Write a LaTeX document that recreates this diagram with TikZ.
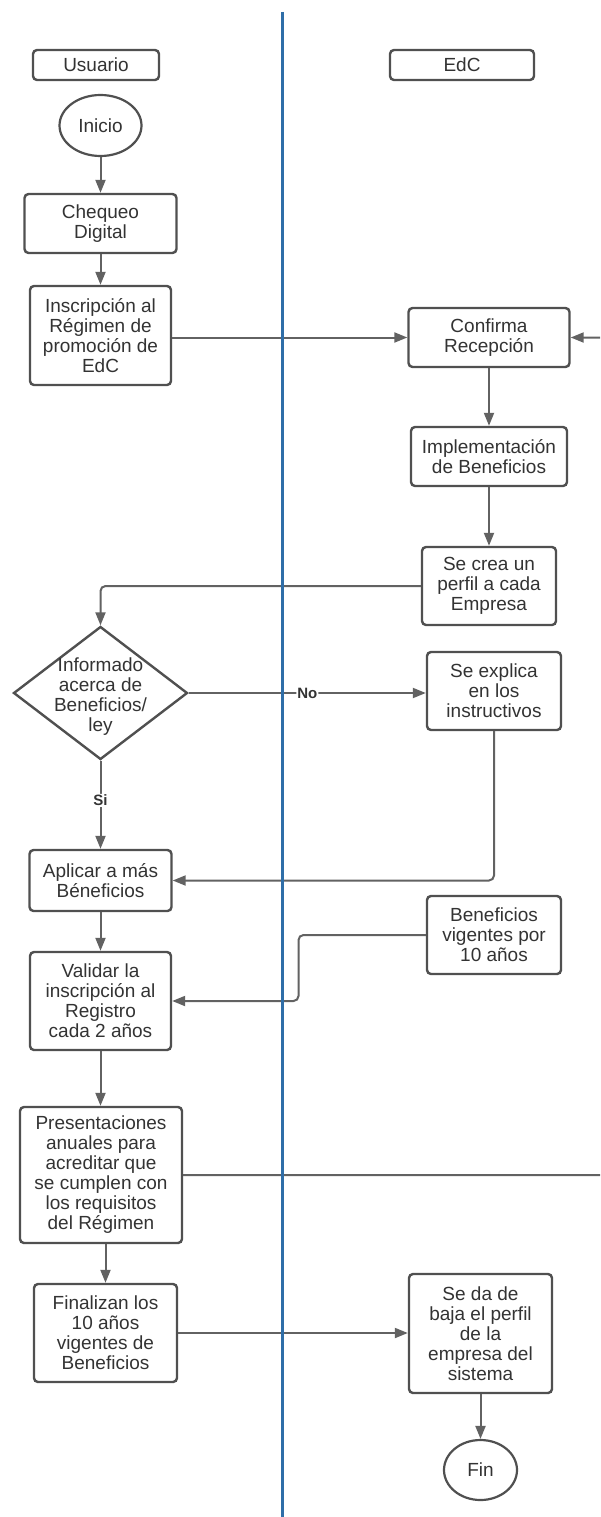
\documentclass[tikz,border=0pt]{standalone}
\usepackage{fontspec}
\setmainfont{Liberation Sans}
\usetikzlibrary{arrows.meta,shapes.geometric}
\definecolor{boxline}{HTML}{505050}
\definecolor{conline}{HTML}{626262}
\definecolor{txt}{HTML}{333333}
\definecolor{lane}{HTML}{2F6EA8}
\begin{document}
\begin{tikzpicture}[x=1pt,y=-1pt,
  every node/.style={font=\fontsize{19}{20}\selectfont, text=txt},
  proc/.style={draw=boxline, line width=2.4pt, rounded corners=4pt, align=center, inner sep=0pt},
  term/.style={draw=boxline, line width=2.2pt, ellipse, inner sep=0pt},
  flow/.style={draw=conline, line width=2pt, -{Triangle[length=13pt,width=10pt]}, rounded corners=5pt},
  lbl/.style={font=\fontsize{15}{15}\selectfont\bfseries, fill=white, inner sep=1pt, text=txt}]
\clip (0,0) rectangle (600,1517);
\fill[white] (0,0) rectangle (600,1517);

% lane headers
\node[proc, minimum width=126pt, minimum height=30pt] (usuario) at (96,65) {Usuario};
\node[proc, minimum width=144pt, minimum height=30pt] (edc) at (462,65) {EdC};

% left lane
\node[term, minimum width=82pt, minimum height=61pt] (inicio) at (100.5,125.5) {Inicio};
\node[proc, minimum width=152pt, minimum height=59pt] (chequeo) at (100.5,223.5) {Chequeo\\Digital};
\node[proc, minimum width=141pt, minimum height=99pt] (inscr) at (100.5,335.5) {Inscripción al\\Régimen de\\promoción de\\EdC};
\node[diamond, draw=boxline, line width=2.4pt, minimum width=174pt, minimum height=133pt, inner sep=0pt] (dec) at (100.5,693) {};
\node[align=center, inner sep=0pt] (dectext) at (100.5,697) {Informado\\acerca de\\Beneficios/\\ley};
\node[proc, minimum width=142pt, minimum height=61pt] (aplicar) at (100.5,880.5) {Aplicar a más\\Béneficios};
\node[proc, minimum width=141pt, minimum height=98pt] (validar) at (100.5,1001) {Validar la\\inscripción al\\Registro\\cada 2 años};
\node[proc, minimum width=162pt, minimum height=136pt] (pres) at (101,1175) {Presentaciones\\anuales para\\acreditar que\\se cumplen con\\los requisitos\\del Régimen};
\node[proc, minimum width=143pt, minimum height=98pt] (final) at (105.5,1333) {Finalizan los\\10 años\\vigentes de\\Beneficios};

% right lane
\node[proc, minimum width=161pt, minimum height=59pt] (confirma) at (489,337.5) {Confirma\\Recepción};
\node[proc, minimum width=156pt, minimum height=59pt] (impl) at (489,456.5) {Implementación\\de Beneficios};
\node[proc, minimum width=134pt, minimum height=78pt] (secrea) at (489,586) {Se crea un\\perfil a cada\\Empresa};
\node[proc, minimum width=134pt, minimum height=78pt] (explica) at (494,691) {Se explica\\en los\\instructivos};
\node[proc, minimum width=134pt, minimum height=78pt] (benef) at (494,935) {Beneficios\\vigentes por\\10 años};
\node[proc, minimum width=143pt, minimum height=119pt] (baja) at (480.5,1333.5) {Se da de\\baja el perfil\\de la\\empresa del\\sistema};
\node[term, minimum width=73pt, minimum height=60pt] (fin) at (480.5,1470) {Fin};

% helper coordinates
\coordinate (jog) at (298.5,968);
\coordinate (offright) at (615,760);
\coordinate (lanetop) at (282,12);
\coordinate (lanebot) at (282,1517);

% connectors
\draw[flow] (inicio.south) -- (chequeo.north);
\draw[flow] (chequeo.south) -- (inscr.north);
\draw[flow] (inscr.east |- confirma.west) -- (confirma.west);
\draw[flow] (confirma.south) -- (impl.north);
\draw[flow] (impl.south) -- (secrea.north);
\draw[flow] (secrea.west) -| (dec.north);
\draw[flow] (dec.east) -- (dec.east -| explica.west) node[lbl, pos=0.5] (nolab) {No};
\draw[flow] (dec.south) -- (aplicar.north) node[lbl, pos=0.45] (silab) {Si};
\draw[flow] (explica.south) |- (aplicar.east);
\draw[flow] (aplicar.south) -- (validar.north);
\draw[flow] (benef.west) -| (jog) |- (validar.east);
\draw[flow] (validar.south) -- (validar.south |- pres.north);
\draw[flow] (pres.east) -| (offright) |- (confirma.east);
\draw[flow] (pres.south -| final.north) -- (final.north);
\draw[flow] (final.east) -- (final.east -| baja.west);
\draw[flow] (baja.south) -- (fin.north);

% swimlane divider
\draw[lane, line width=3pt] (lanetop) -- (lanebot);
\end{tikzpicture}
\end{document}
